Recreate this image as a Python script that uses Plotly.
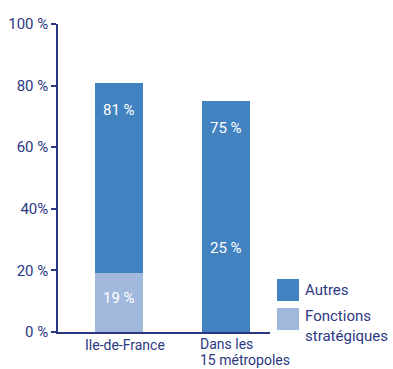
import plotly.graph_objects as go

# Data
categories = ["Ile-de-France", "Dans les<br>15 métropoles"]
autres = [81, 75]
strategiques = [19, 25]
y_tickvals = [0, 20, 40, 60, 80, 100]
y_ticktext = ["0 %", "20 %", "40%", "60 %", "80 %", "100 %"]

DARK = "#4282c0"
LIGHT = "#a1b8dd"
NAVY = "#2c3782"
FONT = "Roboto"
FS = 15
FS_CAT = 14

x_idx = list(range(len(categories)))
bar_w = 0.45

fig = go.Figure()
fig.add_trace(go.Bar(x=x_idx, y=autres, name="Autres", marker_color=DARK,
                     marker_line_width=0, width=bar_w, showlegend=False,
                     hoverinfo="skip"))
# second segment is shaded light only where it is drawn distinctly
fig.add_trace(go.Bar(x=x_idx, y=strategiques, name="Fonctions stratégiques",
                     marker_color=[LIGHT, DARK], marker_line_width=0,
                     width=bar_w, showlegend=False, hoverinfo="skip"))

annotations = []
# value labels inside the bars
for i, v in enumerate(autres):
    annotations.append(dict(x=i, y=v, yshift=-27, text=f"{v} %", showarrow=False,
                            font=dict(family=FONT, size=FS, color="white")))
strat_shift = [-25, 7]
for i, v in enumerate(strategiques):
    annotations.append(dict(x=i, y=v, yshift=strat_shift[i], text=f"{v} %",
                            showarrow=False,
                            font=dict(family=FONT, size=FS, color="white")))

# category labels below the axis
annotations.append(dict(x=0, y=0, xref="x", yref="y", yshift=-13, xshift=6,
                        text=categories[0], showarrow=False, xanchor="center",
                        yanchor="middle", borderpad=0,
                        font=dict(family=FONT, size=FS_CAT, color=NAVY)))
# multi-line category label, left aligned on the bar edge with tight leading
for k, line in enumerate(categories[1].split("<br>")):
    annotations.append(dict(x=1 - bar_w / 2, y=0, xref="x", yref="y",
                            yshift=-12 - 16 * k, xshift=-3, text=line,
                            showarrow=False, xanchor="left", yanchor="middle",
                            borderpad=0,
                            font=dict(family=FONT, size=FS_CAT, color=NAVY)))

# legend drawn as swatches + labels
shapes = []
legend_items = [("Autres", DARK, 279), ("Fonctions<br>stratégiques", LIGHT, 308)]
W, H = 393, 369
for label, col, top in legend_items:
    shapes.append(dict(type="rect", xref="paper", yref="paper",
                       x0=(277 - 58) / (270 - 58), x1=(299 - 58) / (270 - 58),
                       y0=(332 - top) / (332 - 24),
                       y1=(332 - top - 22) / (332 - 24),
                       fillcolor=col, line_width=0))
    annotations.append(dict(xref="paper", yref="paper",
                            x=(303 - 58) / (270 - 58),
                            y=(332 - top - 11) / (332 - 24),
                            text=label, showarrow=False, xanchor="left",
                            yanchor="middle" if "<br>" not in label else "top",
                            yshift=0 if "<br>" not in label else 14,
                            align="left",
                            font=dict(family=FONT, size=FS, color=NAVY)))

fig.update_layout(
    width=W, height=H,
    margin=dict(l=58, r=123, t=24, b=37),
    paper_bgcolor="white", plot_bgcolor="white",
    barmode="overlay",
    bargap=0,
    font=dict(family=FONT, size=FS, color=NAVY),
    xaxis=dict(range=[-0.57, 1.41], showticklabels=False, ticks="",
               showgrid=False, zeroline=False, showline=True,
               linecolor=NAVY, linewidth=1.5, fixedrange=True),
    yaxis=dict(range=[0, 100], tickvals=y_tickvals, ticktext=y_ticktext,
               ticks="outside", ticklen=5, tickcolor=NAVY, tickwidth=1.5,
               showgrid=False, zeroline=False, showline=True,
               linecolor=NAVY, linewidth=1.5, automargin=False,
               tickfont=dict(family=FONT, size=FS, color=NAVY),
               fixedrange=True),
    annotations=annotations,
    shapes=shapes,
)

fig.write_html("out.html")
